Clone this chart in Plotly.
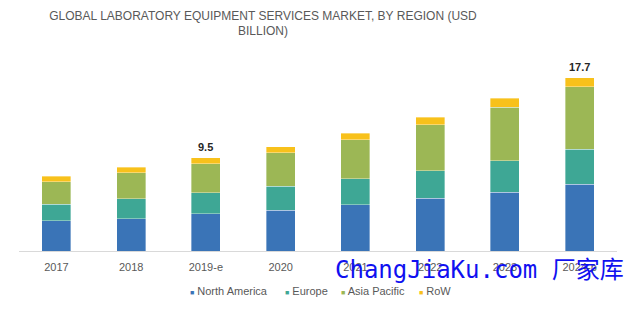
import plotly.graph_objects as go

years = ["2017", "2018", "2019-e", "2020", "2021", "2022", "2023", "2024-p"]
north_america = [3.08, 3.28, 3.80, 4.14, 4.70, 5.39, 6.00, 6.80]
europe = [1.71, 2.04, 2.15, 2.48, 2.66, 2.82, 3.20, 3.60]
asia_pacific = [2.28, 2.66, 2.95, 3.40, 3.99, 4.67, 5.45, 6.35]
row = [0.58, 0.55, 0.60, 0.61, 0.69, 0.75, 0.92, 0.95]
series_names = ["North America", "Europe", "Asia Pacific", "RoW"]
colors = ["#3a74b7", "#3ea795", "#9cb755", "#f8c11b"]
labelled = {"2019-e": "9.5", "2024-p": "17.7"}

series = [north_america, europe, asia_pacific, row]
fig = go.Figure()
for name, vals, col in zip(series_names, series, colors):
    fig.add_trace(go.Bar(
        x=years, y=vals, name=name,
        marker=dict(color=col, line=dict(color="rgba(255,255,255,0.6)", width=0.6)),
        hoverinfo="x+y+name",
    ))

totals = [sum(v) for v in zip(*series)]
for yr, tot in zip(years, totals):
    if yr in labelled:
        fig.add_annotation(x=yr, y=tot, text="<b>%s</b>" % labelled[yr],
                           showarrow=False, yanchor="bottom", yshift=3,
                           font=dict(family="Liberation Sans, Arial, sans-serif", size=11, color="#262626"))

# compact legend, as in the original
leg_x = [188, 283, 339, 417.5]
for name, col, lx in zip(series_names, colors, leg_x):
    fig.add_annotation(
        xref="paper", yref="paper",
        x=(lx - 19) / (617 - 19), y=(250.8 - 290.5) / (250.8 - 55.2),
        xanchor="left", yanchor="middle", showarrow=False,
        text='<span style="color:%s;font-size:7px">■</span> %s' % (col, name),
        font=dict(family="Liberation Sans, Arial, sans-serif", size=11, color="#595959"),
    )

# watermark shown on the original image
fig.add_annotation(
    xref="paper", yref="paper",
    x=(333 - 19) / (617 - 19), y=(250.8 - 270) / (250.8 - 55.2),
    xanchor="left", yanchor="middle", showarrow=False,
    text="ChangJiaKu.com 厂家库",
    font=dict(family="DejaVu Sans Mono, Noto Sans CJK SC, monospace", size=24, color="#1010f0"),
)

fig.update_layout(
    barmode="stack",
    bargap=0.61,
    width=631, height=314,
    margin=dict(l=19, r=14, t=55, b=63),
    paper_bgcolor="white", plot_bgcolor="white",
    showlegend=False,
    title=dict(
        text="GLOBAL LABORATORY EQUIPMENT SERVICES MARKET, BY REGION (USD<br>BILLION)",
        x=263 / 631, xanchor="center", y=0.937, yanchor="top",
        font=dict(family="Liberation Sans, Arial, sans-serif", size=12, color="#595959"),
    ),
    xaxis=dict(showline=True, linecolor="#d9d9d9", linewidth=1, ticks="",
               ticklabelstandoff=6,
               tickfont=dict(family="Liberation Sans, Arial, sans-serif", size=11, color="#595959"),
               showgrid=False),
    yaxis=dict(range=[0, 20], visible=False, showgrid=False, zeroline=False),
)

fig.write_html("out.html")
